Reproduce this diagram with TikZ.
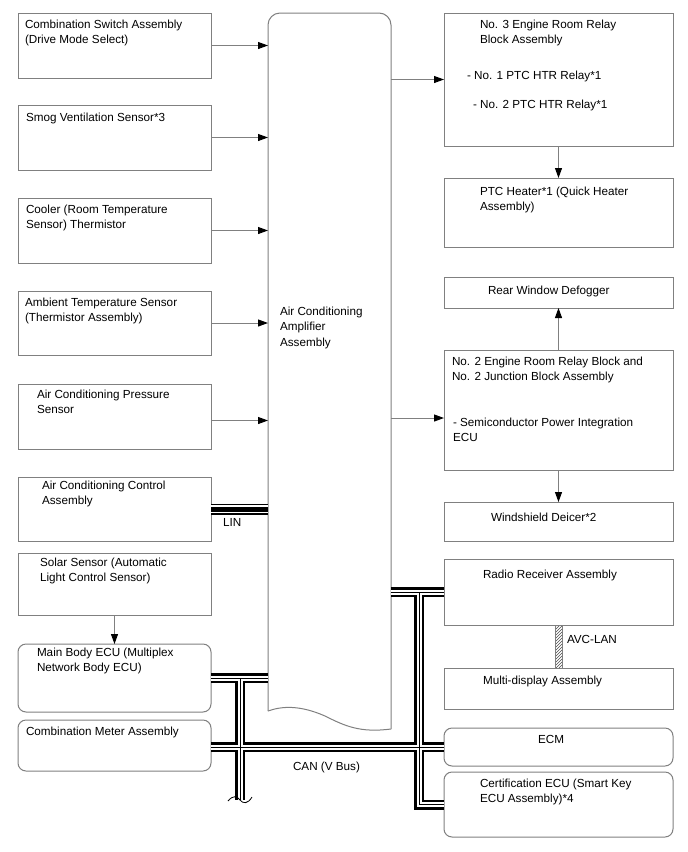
\documentclass[tikz,border=0pt]{standalone}
\usepackage{fontspec}
\setmainfont{Liberation Sans}
\usetikzlibrary{arrows.meta,patterns}
\definecolor{bc}{RGB}{128,128,128}
\begin{document}
\begin{tikzpicture}[x=1pt,y=-1pt,
  box/.style={draw=bc, line width=1pt, anchor=north west, inner sep=0pt, outer sep=0pt},
  rbox/.style={box, rounded corners=8pt},
  txt/.style={anchor=north west, inner sep=0pt, outer sep=0pt, align=left, font=\fontsize{11.7}{15.5}\selectfont},
  arr/.style={draw=bc, line width=1pt, -{Triangle[length=10pt,width=7pt,color=black]}},
  outline/.style={draw=bc, line width=1pt}]
\fill[white] (0,0) rectangle (688,852);
\useasboundingbox (0,0) rectangle (688,852);

% left column
\node[box, minimum width=193pt, minimum height=65pt] (L1) at (18,13) {};
\node[box, minimum width=193pt, minimum height=65pt] (L2) at (18,105) {};
\node[box, minimum width=193pt, minimum height=65pt] (L3) at (18,198) {};
\node[box, minimum width=193pt, minimum height=64pt] (L4) at (18,291) {};
\node[box, minimum width=193pt, minimum height=65pt] (L5) at (18,384) {};
\node[box, minimum width=193pt, minimum height=64pt] (L6) at (18,477) {};
\node[box, minimum width=193pt, minimum height=62pt] (L7) at (18,553) {};
\node[rbox, minimum width=193pt, minimum height=68pt] (L8) at (18,644) {};
\node[rbox, minimum width=193pt, minimum height=51pt] (L9) at (18,720) {};

% right column
\node[box, minimum width=229pt, minimum height=133pt] (R1) at (444,13) {};
\node[box, minimum width=229pt, minimum height=69pt] (R2) at (444,178) {};
\node[box, minimum width=229pt, minimum height=31pt] (R3) at (444,277) {};
\node[box, minimum width=229pt, minimum height=120pt] (R4) at (444,350) {};
\node[box, minimum width=229pt, minimum height=39pt] (R5) at (444,502) {};
\node[box, minimum width=229pt, minimum height=66pt] (R6) at (444,559) {};
\node[box, minimum width=229pt, minimum height=41pt] (R7) at (444,668) {};
\node[rbox, minimum width=229pt, minimum height=38pt] (R8) at (444,728) {};
\node[rbox, minimum width=229pt, minimum height=65pt] (R9) at (444,772) {};

% central amplifier
\node[anchor=north west, inner sep=0pt, outer sep=0pt, minimum width=123pt, minimum height=716pt] (amp) at (268,13) {};
\draw[outline, rounded corners=12pt] (268,711) -- (268,13) -- (391,13) -- (391,729);
\draw[outline] (391,729) .. controls (360,733) and (345,726) .. (325,716) .. controls (300,705) and (282,706) .. (268,711);

% texts
\node[txt] (tL1) at (25,20) {Combination Switch Assembly\\(Drive Mode Select)};
\node[txt] (tL2) at (26,113) {Smog Ventilation Sensor*3};
\node[txt] (tL3) at (26,205) {Cooler (Room Temperature\\Sensor) Thermistor};
\node[txt] (tL4) at (25,298) {Ambient Temperature Sensor\\(Thermistor Assembly)};
\node[txt] (tL5) at (37,390) {Air Conditioning Pressure\\Sensor};
\node[txt] (tL6) at (42,481) {Air Conditioning Control\\Assembly};
\node[txt] (tL7) at (40,558) {Solar Sensor (Automatic\\Light Control Sensor)};
\node[txt] (tL8) at (37,648) {Main Body ECU (Multiplex\\Network Body ECU)};
\node[txt] (tL9) at (26,727) {Combination Meter Assembly};
\node[txt] (tA) at (280,307) {Air Conditioning\\Amplifier\\Assembly};
\node[txt] (tR1) at (480,20) {No. 3 Engine Room Relay\\Block Assembly};
\node[txt] (tR1a) at (467,71) {- No. 1 PTC HTR Relay*1};
\node[txt] (tR1b) at (473,100) {- No. 2 PTC HTR Relay*1};
\node[txt] (tR2) at (480,187) {PTC Heater*1 (Quick Heater\\Assembly)};
\node[txt] (tR3) at (488,286) {Rear Window Defogger};
\node[txt] (tR4) at (452,357) {No. 2 Engine Room Relay Block and\\No. 2 Junction Block Assembly};
\node[txt] (tR4a) at (453,418) {- Semiconductor Power Integration\\ECU};
\node[txt] (tR5) at (491,513) {Windshield Deicer*2};
\node[txt] (tR6) at (483,570) {Radio Receiver Assembly};
\node[txt] (tR7) at (483,676) {Multi-display Assembly};
\node[txt] (tR8) at (538,735) {ECM};
\node[txt] (tR9) at (480,779) {Certification ECU (Smart Key\\ECU Assembly)*4};
\node[txt] (tLIN) at (223,518) {LIN};
\node[txt] (tAVC) at (567,635) {AVC-LAN};
\node[txt] (tCAN) at (293,762) {CAN (V Bus)};

% arrows
\draw[arr] (L1.east) -- (L1.east -| amp.west);
\draw[arr] (L2.east) -- (L2.east -| amp.west);
\draw[arr] (L3.east) -- (L3.east -| amp.west);
\draw[arr] (L4.east) -- (L4.east -| amp.west);
\draw[arr] ([yshift=-4pt]L5.east) -- ([yshift=-4pt]L5.east -| amp.west);
\draw[arr] (R1.west -| amp.east) -- (R1.west);
\draw[arr] ([yshift=-8pt]R4.west -| amp.east) -- ([yshift=-8pt]R4.west);
\draw[arr] (R1.south) -- (R2.north);
\draw[arr] (R4.north) -- (R3.south);
\draw[arr] (R4.south) -- (R5.north);
\draw[arr] (L7.south) -- (L8.north);

% LIN bus
\foreach \w/\c in {11pt/black,7.8pt/white,5pt/black}
  \draw[line width=\w, \c] (L6.east) -- (L6.east -| amp.west);

% CAN bus
\coordinate (cx1) at (240,800);
\coordinate (cx2) at (419,0);
\foreach \w/\c in {10pt/black,5pt/white,1pt/black}{
  \draw[line width=\w, \c] (L8.east) -- (L8.east -| amp.west);
  \draw[line width=\w, \c] (L8.east -| cx1) -- (cx1);
  \draw[line width=\w, \c] (L9.east |- R8.west) -- (R8.west);
  \draw[line width=\w, \c] (R6.west -| amp.east) -- (R6.west);
  \draw[line width=\w, \c] (R6.west -| cx2) -- (cx2 |- R9.west) -- (R9.west);
}
\draw[black, line width=0.8pt] (228,801) .. controls (233,795) and (237,796) .. (240,800) .. controls (243,804) and (248,804) .. (252,797);

% AVC-LAN
\draw[bc, line width=0.8pt, pattern=north east lines, pattern color=black!70] ([xshift=-3.5pt]R6.south) rectangle ([xshift=3.5pt]R7.north);
\end{tikzpicture}
\end{document}
